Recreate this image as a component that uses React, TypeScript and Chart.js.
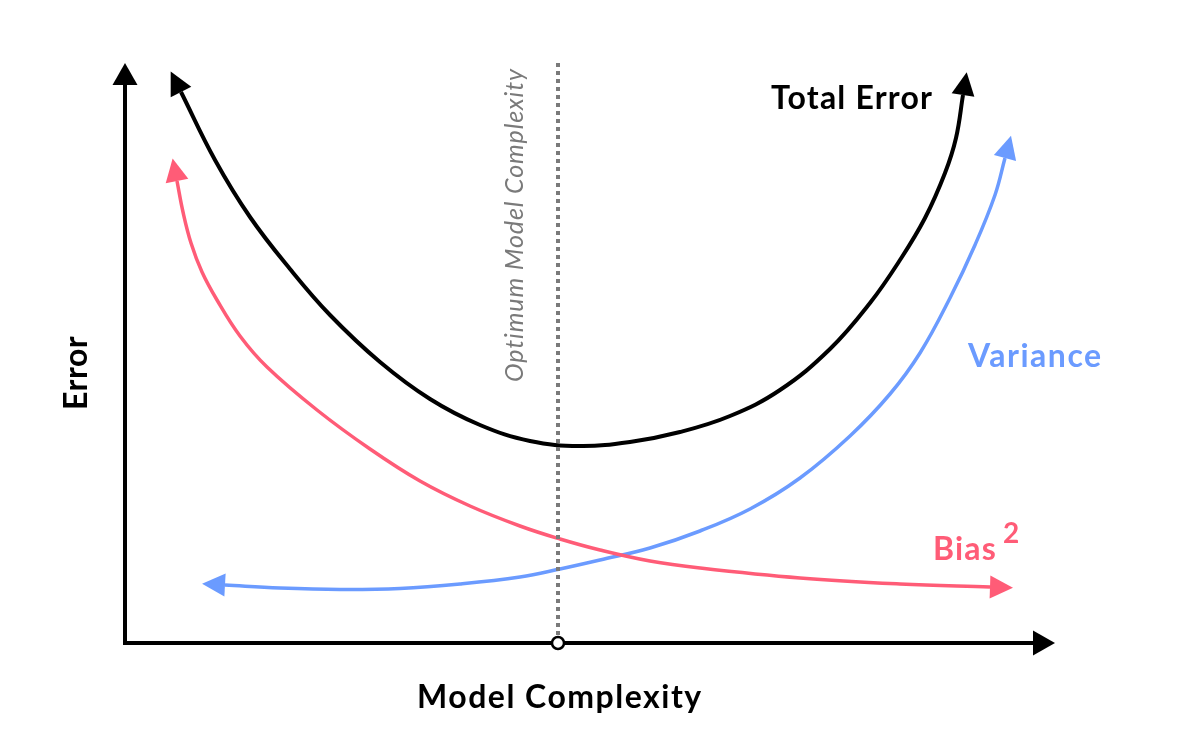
import React, { useEffect, useRef } from "react";
import { Chart, registerables } from "chart.js";

Chart.register(...registerables);

// Model complexity (x) vs error (y)
const totalErrorX = [56, 90, 125, 165, 205, 255, 305, 355, 405, 455, 505, 555, 605, 655, 705, 745, 775, 800, 820, 831, 838];
const totalErrorY = [551, 483, 426, 374, 328, 281, 244, 218, 202, 197, 201, 211, 227, 253, 294, 340, 383, 425, 470, 505, 548];

const biasX = [52, 58, 66, 77, 92, 115, 142, 192, 245, 295, 345, 395, 435, 475, 525, 575, 675, 775, 865];
const biasY = [462, 431, 400, 371, 343, 307, 276, 233, 194, 162, 137, 117, 104, 93, 82, 75, 65, 59, 56];

const varianceX = [100, 155, 215, 275, 335, 395, 435, 475, 525, 575, 625, 675, 725, 765, 795, 825, 850, 870, 880];
const varianceY = [58, 55, 53.5, 54.5, 59, 66, 74, 83, 95, 112, 134, 165, 207, 249, 290, 345, 398, 448, 485];

const optimumComplexity = 433;
const xRange = [0, 930];
const yRange = [0, 580];

const BLACK = "#000000";
const PINK = "#FF5C77";
const BLUE = "#6B9BFF";
const GRAY = "#7A7A7A";
const FONT = "Lato, 'Open Sans', sans-serif";

const zip = (xs: number[], ys: number[]) => xs.map((x, i) => ({ x, y: ys[i] }));

function drawArrowHead(ctx: CanvasRenderingContext2D, bx: number, by: number, dx: number, dy: number, len: number, half: number, color: string) {
  const m = Math.hypot(dx, dy) || 1;
  const ux = dx / m, uy = dy / m;
  const px = -uy, py = ux;
  ctx.save();
  ctx.fillStyle = color;
  ctx.beginPath();
  ctx.moveTo(bx + ux * len, by + uy * len);
  ctx.lineTo(bx + px * half, by + py * half);
  ctx.lineTo(bx - px * half, by - py * half);
  ctx.closePath();
  ctx.fill();
  ctx.restore();
}

function text(ctx: any, s: string, x: number, y: number, font: string, color: string, align: CanvasTextAlign, spacing: number) {
  ctx.save();
  ctx.font = font;
  ctx.fillStyle = color;
  ctx.textAlign = align;
  ctx.textBaseline = "alphabetic";
  ctx.letterSpacing = `${spacing}px`;
  ctx.fillText(s, x, y);
  const w = ctx.measureText(s).width;
  ctx.restore();
  return w;
}

const diagramPlugin = {
  id: "diagram",
  beforeDatasetsDraw(chart: any) {
    const { ctx, scales } = chart;
    const xs = scales.x, ys = scales.y;
    const x0 = xs.getPixelForValue(xRange[0]);
    const x1 = xs.getPixelForValue(xRange[1]);
    const y0 = ys.getPixelForValue(yRange[0]);
    const y1 = ys.getPixelForValue(yRange[1]);
    ctx.save();
    ctx.strokeStyle = BLACK;
    ctx.lineWidth = 4;
    ctx.lineCap = "butt";
    ctx.beginPath();
    ctx.moveTo(x0 - 2, y0);
    ctx.lineTo(x1 - 20, y0);
    ctx.moveTo(x0, y0 + 2);
    ctx.lineTo(x0, y1 + 20);
    ctx.stroke();
    ctx.restore();
    drawArrowHead(ctx, x1 - 22, y0, 1, 0, 22, 12.5, BLACK);
    drawArrowHead(ctx, x0, y1 + 22, 0, -1, 22, 12.5, BLACK);
  },
  afterDatasetsDraw(chart: any) {
    const { ctx, scales } = chart;
    const xs = scales.x, ys = scales.y;
    chart.data.datasets.forEach((ds: any, i: number) => {
      const meta = chart.getDatasetMeta(i);
      const pts = meta.data;
      if (!pts || pts.length < 2) return;
      const first = pts[0], second = pts[1];
      const last = pts[pts.length - 1], prev = pts[pts.length - 2];
      const dx0 = first.x - second.x, dy0 = first.y - second.y;
      const dx1 = last.x - prev.x, dy1 = last.y - prev.y;
      drawArrowHead(ctx, first.x, first.y, dx0, dy0, 23, 11.5, ds.borderColor);
      drawArrowHead(ctx, last.x, last.y, dx1, dy1, 23, 11.5, ds.borderColor);
    });

    // optimum dotted line
    const ox = xs.getPixelForValue(optimumComplexity);
    const yBottom = ys.getPixelForValue(yRange[0]);
    const yTop = ys.getPixelForValue(yRange[1]);
    ctx.save();
    ctx.strokeStyle = GRAY;
    ctx.lineWidth = 4;
    ctx.setLineDash([4, 4]);
    ctx.beginPath();
    ctx.moveTo(ox, yTop);
    ctx.lineTo(ox, yBottom - 6);
    ctx.stroke();
    ctx.setLineDash([]);
    ctx.beginPath();
    ctx.arc(ox, yBottom, 6, 0, Math.PI * 2);
    ctx.fillStyle = "#ffffff";
    ctx.fill();
    ctx.lineWidth = 2.5;
    ctx.strokeStyle = BLACK;
    ctx.stroke();
    ctx.restore();

    // rotated optimum label
    ctx.save();
    ctx.translate(ox - 35, 382);
    ctx.rotate(-Math.PI / 2);
    text(ctx, "Optimum Model Complexity", 0, 0, `italic 400 25px ${FONT}`, GRAY, "left", 0.9);
    ctx.restore();

    // curve labels
    const bold = `700 32px ${FONT}`;
    text(ctx, "Total Error", 771, 109, bold, BLACK, "left", 1.2);
    text(ctx, "Variance", 968, 367, bold, BLUE, "left", 1.5);
    text(ctx, "Bias", 933, 560, bold, PINK, "left", 1.2);
    text(ctx, "2", 1003, 543, `700 28px ${FONT}`, PINK, "left", 0);

    // axis titles
    text(ctx, "Model Complexity", 417, 708, bold, BLACK, "left", 1.5);
    ctx.save();
    ctx.translate(87, 410);
    ctx.rotate(-Math.PI / 2);
    text(ctx, "Error", 0, 0, bold, BLACK, "left", 0.5);
    ctx.restore();
  },
};

export default function App() {
  const ref = useRef<HTMLCanvasElement | null>(null);
  useEffect(() => {
    if (!ref.current) return;
    const lineDs = (label: string, xs: number[], ys: number[], color: string, width: number) => ({
      label,
      data: zip(xs, ys),
      borderColor: color,
      borderWidth: width,
      pointRadius: 0,
      fill: false,
      tension: 0.4,
      clip: false as any,
    });
    const chart = new Chart(ref.current, {
      type: "line",
      data: {
        datasets: [
          lineDs("Bias²", biasX, biasY, PINK, 3.5),
          lineDs("Variance", varianceX, varianceY, BLUE, 3.5),
          lineDs("Total Error", totalErrorX, totalErrorY, BLACK, 4),
        ],
      },
      options: {
        animation: false,
        responsive: true,
        maintainAspectRatio: false,
        layout: { padding: { left: 125, right: 145, top: 63, bottom: 108 } },
        plugins: { legend: { display: false }, tooltip: { enabled: false }, title: { display: false } },
        scales: {
          x: { type: "linear", min: xRange[0], max: xRange[1], display: false },
          y: { type: "linear", min: yRange[0], max: yRange[1], display: false },
        },
      },
      plugins: [diagramPlugin],
    });
    return () => chart.destroy();
  }, []);
  return (
    <div style={{ position: "absolute", left: 0, top: 0, width: 1200, height: 751, background: "#fff" }}>
      <canvas ref={ref} />
    </div>
  );
}
